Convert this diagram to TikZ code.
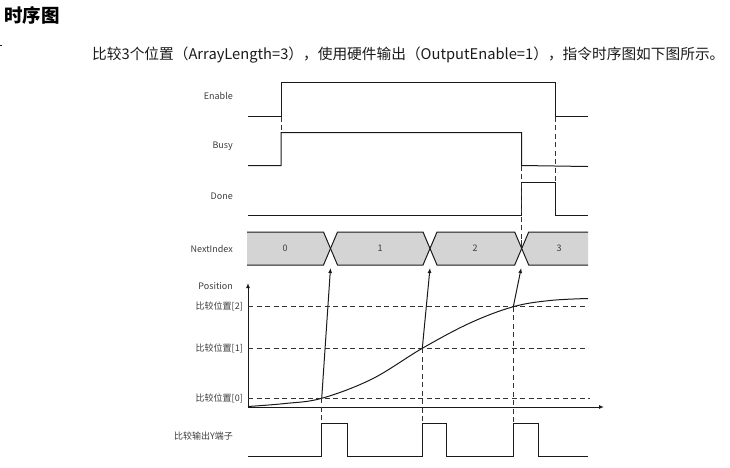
\documentclass[tikz,border=0pt]{standalone}
\usepackage{fontspec}
\setmainfont{Noto Sans CJK SC}
\usetikzlibrary{arrows.meta}
\definecolor{busgray}{HTML}{D4D4D4}
\definecolor{ink}{HTML}{1A1A1A}
\definecolor{guidegray}{HTML}{333333}

\begin{document}
\begin{tikzpicture}[x=1pt,y=-1pt,
    sig/.style={draw=ink,line width=1pt},
    guide/.style={draw=guidegray,line width=0.9pt,dash pattern=on 5pt off 3.5pt},
    lbl/.style={anchor=east,inner sep=0pt,font=\fontsize{9}{10}\selectfont,text=ink!85},
    axarrow/.style={-{Latex[length=5pt,width=4pt]}}]
    \useasboundingbox (0,0) rectangle (730,467);
    % heading and text
    \node[anchor=west,inner sep=0pt,font=\fontsize{18.5}{20}\selectfont\bfseries] (title) at (4,15) {时序图};
    \draw[ink,line width=0.8pt] (0,45)--(2,45);
    \node[anchor=west,inner sep=0pt,font=\fontsize{14.7}{16}\selectfont,text=ink] (intro) at (92,55) {比较3个位置（ArrayLength=3），使用硬件输出（OutputEnable=1），指令时序图如下图所示。};
    % signal names
    \node[lbl] (enable) at (233,95.5) {Enable};
    \node[lbl] (busy) at (233,146.5) {Busy};
    \node[lbl] (done) at (233,196.5) {Done};
    \node[lbl] (nextindex) at (233,248.5) {NextIndex};
    \node[lbl] (position) at (233,286.5) {Position};
    \node[lbl] (cmp2) at (243,306.7) {比较位置[2]};
    \node[lbl] (cmp1) at (243,348.3) {比较位置[1]};
    \node[lbl] (cmp0) at (243,398.3) {比较位置[0]};
    \node[lbl] (yout) at (233,436) {比较输出Y端子};
    % Enable, Busy, Done
    \draw[sig] (248,116.5)--(281,116.5)--(281,82.5)--(555,82.5)--(555,116.5)--(588,116.5);
    \draw[sig] (248,165.5)--(281,165.5)--(281,132.5)--(521.7,132.5)--(521.7,165.5)--(588,166.5);
    \draw[sig] (248,215.5)--(521.7,215.5)--(521.7,182.5)--(555,182.5)--(555,215.5)--(588,215.5);
    \draw[guide] (281,116.5)--(281,132.5);
    \draw[guide] (555,116.5)--(555,182.5);
    \draw[guide] (521.7,165.5)--(521.7,248.5);
    % NextIndex bus
    \begin{scope}
        \clip (247,220) rectangle (588,275);
        \foreach \xs/\xe in {230/330.5, 330.5/430, 430/521.7, 521.7/610}
            \draw[fill=busgray,draw=ink,line width=1pt] (\xs,248.5)--(\xs+7,232)--(\xe-7,232)--(\xe,248.5)--(\xe-7,265)--(\xs+7,265)--cycle;
    \end{scope}
    \foreach \xv/\val in {285/0, 380/1, 475/2, 559/3}
        \node[inner sep=0pt,font=\fontsize{9}{10}\selectfont,text=ink!85] (idx\val) at (\xv,248.5) {\val};
    \draw[guide] (521.7,240)--(521.7,248.5);
    % position axes
    \draw[sig,axarrow] (248,407)--(248,283);
    \draw[sig,axarrow] (248,407)--(604,407);
    \draw[guide] (248,306.7)--(588,306.7);
    \draw[guide] (248,348.3)--(588,348.3);
    \draw[guide] (248,398.3)--(590,398.3);
    \coordinate (p0) at (321.7,398.3);
    \coordinate (p1) at (422.3,348.3);
    \coordinate (p2) at (513.3,306.7);
    \draw[sig] plot[smooth,tension=0.6] coordinates {(248,406.5) (285,403.5) (p0) (372,379) (p1) (470,323) (p2) (550,300.5) (588,298.5)};
    \draw[guide] (p0)--(321.7,423.5);
    \draw[guide] (p1)--(422.3,423.5);
    \draw[guide] (p2)--(513.3,423.5);
    % trigger arrows
    \coordinate (x1) at (330.5,268);
    \coordinate (x2) at (430,268);
    \coordinate (x3) at (521.2,268);
    \draw[sig,axarrow] (p0)--(x1);
    \draw[sig,axarrow] (p1)--(x2);
    \draw[sig,axarrow] (p2)--(x3);
    % compare output Y
    \draw[sig] (248,456.5)--(321.7,456.5)--(321.7,423.5)--(347.3,423.5)--(347.3,456.5)--(422.3,456.5)--(422.3,423.5)--(446.7,423.5)--(446.7,456.5)--(513.3,456.5)--(513.3,423.5)--(538.3,423.5)--(538.3,456.5)--(588,456.5);
\end{tikzpicture}
\end{document}
